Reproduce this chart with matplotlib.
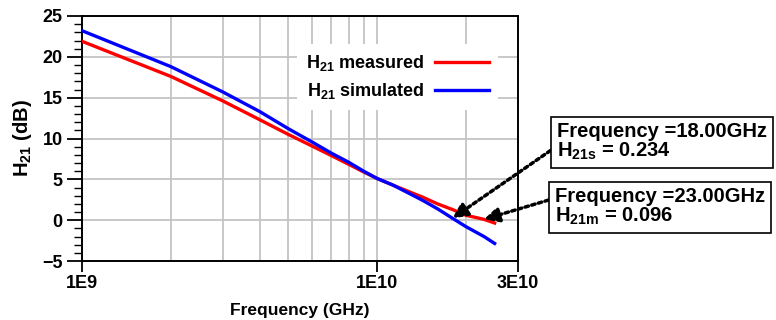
import numpy as np
import matplotlib
matplotlib.use("Agg")
import matplotlib.pyplot as plt
from matplotlib.ticker import FixedLocator, NullFormatter

plt.rcParams['font.family'] = ['Liberation Sans', 'DejaVu Sans']
plt.rcParams['font.weight'] = 'bold'
plt.rcParams['mathtext.fontset'] = 'custom'
plt.rcParams['mathtext.rm'] = 'Liberation Sans:bold'
plt.rcParams['mathtext.bf'] = 'Liberation Sans:bold'
plt.rcParams['mathtext.default'] = 'bf'

# Frequency points (Hz) and H21 values (dB)
freq = [1e9, 2e9, 3e9, 4e9, 5e9, 6e9, 7e9, 8e9, 9e9, 10e9,
        11.3e9, 13.2e9, 14.3e9, 16e9, 18e9, 20e9, 23e9, 25e9]
h21_measured = [21.9, 17.6, 14.6, 12.3, 10.5, 9.1, 7.9, 6.85, 5.9, 5.1,
                4.3, 3.3, 2.8, 2.0, 1.3, 0.6, 0.1, -0.35]
h21_simulated = [23.2, 18.8, 15.7, 13.3, 11.2, 9.6, 8.2, 7.1, 6.0, 5.1,
                 4.3, 3.05, 2.4, 1.4, 0.23, -0.8, -2.0, -2.85]

# Marker annotations
mark_freq = [18e9, 23e9]
mark_value = [0.234, 0.096]
mark_text = ["Frequency =18.00GHz\nH$_{21s}$ = 0.234",
             "Frequency =23.00GHz\nH$_{21m}$ = 0.096"]

x_major = [1e9, 1e10, 3e10]
x_major_labels = ["1E9", "1E10", "3E10"]
x_grid = [2e9, 3e9, 4e9, 5e9, 6e9, 7e9, 8e9, 9e9, 2e10]

fig = plt.figure(figsize=(7.76, 3.2), dpi=100)
ax = fig.add_axes([82 / 776, 59 / 320, 436 / 776, 245 / 320])

ax.plot(freq, h21_measured, color='#ff0000', lw=2.4, label="H$_{21}$ measured", zorder=3)
ax.plot(freq, h21_simulated, color='#0000ff', lw=2.4, label="H$_{21}$ simulated", zorder=3)

ax.set_xscale('log')
ax.set_xlim(1e9, 3e10)
ax.set_ylim(-5, 25)

ax.xaxis.set_major_locator(FixedLocator(x_major))
ax.set_xticklabels(x_major_labels)
ax.xaxis.set_minor_locator(FixedLocator(x_grid))
ax.xaxis.set_minor_formatter(NullFormatter())
ax.tick_params(axis='x', which='minor', length=0)
ax.tick_params(axis='x', which='major', length=8, width=1.3, direction='out', labelsize=13, pad=2)

ax.set_yticks(np.arange(-5, 26, 5))
ax.set_yticks(np.arange(-5, 26, 1), minor=True)
ax.tick_params(axis='y', which='major', length=11, width=1.3, direction='out', labelsize=13, pad=3)
ax.tick_params(axis='y', which='minor', length=6, width=1.0, direction='out')
plt.setp(ax.get_xticklabels() + ax.get_yticklabels(), fontweight='bold')

ax.grid(True, axis='x', which='both', color='#c4c4c4', lw=1.3)
ax.grid(True, axis='y', which='major', color='#c4c4c4', lw=1.3)
ax.set_axisbelow(True)
for s in ax.spines.values():
    s.set_linewidth(1.4)

ax.set_xlabel("Frequency (GHz)", fontsize=12.5, fontweight='bold', labelpad=8)
ax.set_ylabel("H$_{21}$ (dB)", fontsize=14.5, fontweight='bold', labelpad=6)

leg = ax.legend(loc='upper right', bbox_to_anchor=(0.955, 0.885), borderaxespad=0,
                frameon=True, fancybox=False, edgecolor='none', facecolor='white',
                framealpha=1, markerfirst=False, handlelength=3.0, handletextpad=0.6,
                labelspacing=0.45, borderpad=0.5, prop={'size': 13, 'weight': 'bold'})

# annotation boxes outside the axes (figure pixel positions)
text_pos = [(557, 178), (555, 113)]
rel_pos = [(0, 0.4), (0, 0.72)]
for f, v, t, p, r in zip(mark_freq, mark_value, mark_text, text_pos, rel_pos):
    ax.annotate(t, xy=(f, v), xycoords='data', xytext=p, textcoords='figure pixels',
                ha='left', va='center', fontsize=14.5, fontweight='bold', linespacing=1.0,
                bbox=dict(boxstyle='square,pad=0.3', fc='white', ec='black', lw=1.2),
                arrowprops=dict(arrowstyle='-|>', linestyle=(0, (1, 1)), lw=2.5, color='black',
                                mutation_scale=22, shrinkA=0, shrinkB=0, relpos=r),
                annotation_clip=False)

fig.savefig("out.png", dpi=100)
